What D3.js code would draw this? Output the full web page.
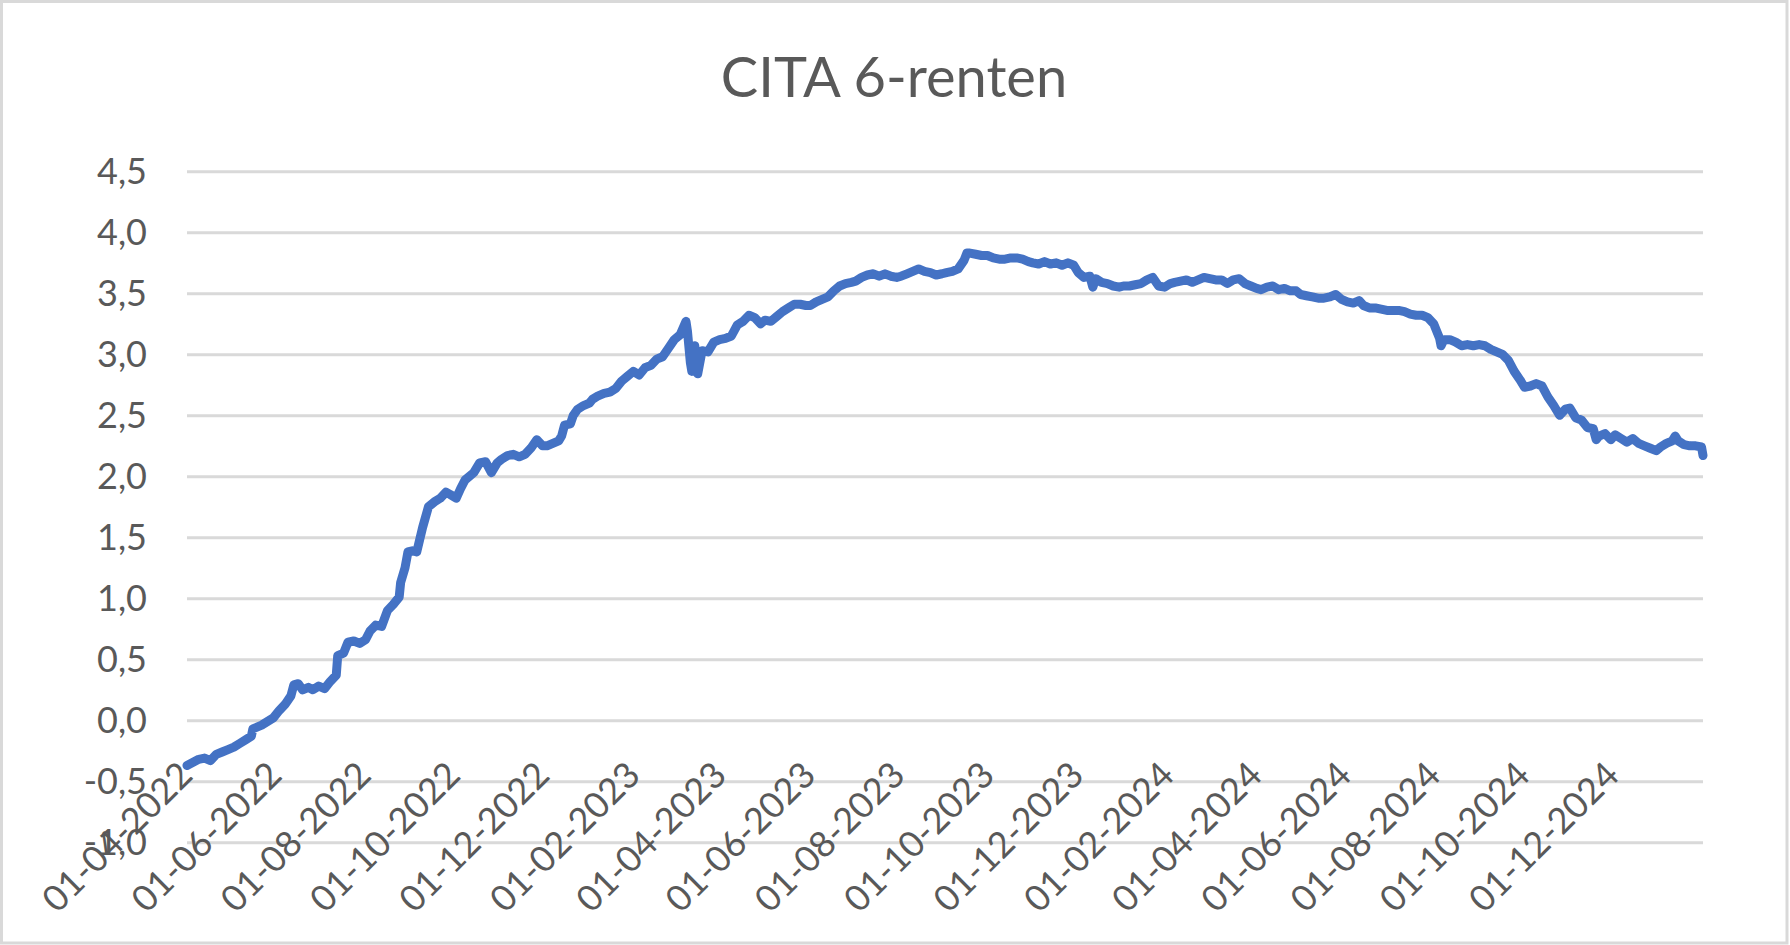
<!DOCTYPE html>
<html>
<head>
<meta charset="utf-8">
<script src="https://cdn.jsdelivr.net/npm/d3@7"></script>
<style>
  html, body { margin: 0; padding: 0; background: #fff; }
  svg { display: block; }
  text { font-family: Lato, "Open Sans", sans-serif; fill: #595959; }
</style>
</head>
<body>
<svg id="chart" width="1790" height="945"></svg>
<script>
const chartTitle = "CITA 6-renten";

const dates = [
"2022-04-01","2022-04-09","2022-04-13","2022-04-17","2022-04-21","2022-04-25","2022-04-29","2022-05-03","2022-05-07","2022-05-11",
"2022-05-15","2022-05-16","2022-05-22","2022-05-30","2022-06-03","2022-06-07","2022-06-11","2022-06-13","2022-06-16","2022-06-19",
"2022-06-23","2022-06-26","2022-06-30","2022-07-04","2022-07-08","2022-07-12","2022-07-13","2022-07-17","2022-07-20","2022-07-24",
"2022-07-28","2022-08-01","2022-08-04","2022-08-08","2022-08-12","2022-08-16","2022-08-20","2022-08-24","2022-08-25","2022-08-28",
"2022-08-30","2022-09-02","2022-09-05","2022-09-09","2022-09-13","2022-09-17","2022-09-21","2022-09-25","2022-09-28","2022-10-02",
"2022-10-05","2022-10-08","2022-10-14","2022-10-18","2022-10-22","2022-10-26","2022-10-30","2022-11-02","2022-11-06","2022-11-10",
"2022-11-14","2022-11-18","2022-11-22","2022-11-26","2022-11-30","2022-12-03","2022-12-07","2022-12-11","2022-12-13","2022-12-15",
"2022-12-19","2022-12-21","2022-12-24","2022-12-28","2023-01-01","2023-01-03","2023-01-07","2023-01-11","2023-01-15","2023-01-19",
"2023-01-23","2023-01-27","2023-01-31","2023-02-04","2023-02-08","2023-02-12","2023-02-16","2023-02-20","2023-02-24","2023-02-28",
"2023-03-04","2023-03-08","2023-03-09","2023-03-11","2023-03-12","2023-03-14","2023-03-16","2023-03-19","2023-03-23","2023-03-27",
"2023-03-31","2023-04-04","2023-04-08","2023-04-12","2023-04-16","2023-04-20","2023-04-24","2023-04-28","2023-05-01","2023-05-05",
"2023-05-09","2023-05-13","2023-05-17","2023-05-21","2023-05-25","2023-05-29","2023-06-01","2023-06-05","2023-06-09","2023-06-13",
"2023-06-17","2023-06-21","2023-06-25","2023-06-29","2023-07-02","2023-07-06","2023-07-10","2023-07-14","2023-07-18","2023-07-22",
"2023-07-26","2023-07-30","2023-08-02","2023-08-06","2023-08-10","2023-08-14","2023-08-18","2023-08-22","2023-08-26","2023-08-30",
"2023-09-02","2023-09-06","2023-09-10","2023-09-14","2023-09-16","2023-09-18","2023-09-22","2023-09-26","2023-09-30","2023-10-04",
"2023-10-08","2023-10-12","2023-10-16","2023-10-20","2023-10-24","2023-10-28","2023-10-31","2023-11-04","2023-11-08","2023-11-12",
"2023-11-16","2023-11-20","2023-11-24","2023-11-28","2023-12-01","2023-12-05","2023-12-09","2023-12-11","2023-12-13","2023-12-17",
"2023-12-21","2023-12-25","2023-12-29","2024-01-01","2024-01-05","2024-01-09","2024-01-13","2024-01-17","2024-01-21","2024-01-25",
"2024-01-29","2024-02-02","2024-02-05","2024-02-09","2024-02-13","2024-02-17","2024-02-21","2024-02-25","2024-02-29","2024-03-04",
"2024-03-08","2024-03-12","2024-03-16","2024-03-20","2024-03-24","2024-03-28","2024-04-01","2024-04-04","2024-04-08","2024-04-12",
"2024-04-16","2024-04-20","2024-04-24","2024-04-28","2024-05-01","2024-05-05","2024-05-09","2024-05-13","2024-05-17","2024-05-21",
"2024-05-25","2024-05-29","2024-06-02","2024-06-06","2024-06-10","2024-06-13","2024-06-17","2024-06-21","2024-06-25","2024-06-29",
"2024-07-03","2024-07-07","2024-07-11","2024-07-15","2024-07-19","2024-07-23","2024-07-27","2024-07-31","2024-08-04","2024-08-05",
"2024-08-07","2024-08-11","2024-08-15","2024-08-19","2024-08-23","2024-08-27","2024-08-31","2024-09-04","2024-09-08","2024-09-12",
"2024-09-16","2024-09-20","2024-09-24","2024-09-28","2024-10-01","2024-10-05","2024-10-09","2024-10-13","2024-10-17","2024-10-21",
"2024-10-25","2024-10-29","2024-11-01","2024-11-05","2024-11-09","2024-11-13","2024-11-17","2024-11-19","2024-11-21","2024-11-25",
"2024-11-29","2024-12-02","2024-12-06","2024-12-10","2024-12-14","2024-12-18","2024-12-22","2024-12-26","2024-12-30","2025-01-02",
"2025-01-06","2025-01-10","2025-01-12","2025-01-14","2025-01-18","2025-01-22","2025-01-26","2025-01-30","2025-01-31"
];

const rates = [
-0.37,-0.32,-0.31,-0.33,-0.28,-0.26,-0.24,-0.22,-0.19,-0.16,
-0.13,-0.07,-0.04,0.02,0.08,0.13,0.20,0.29,0.30,0.25,
0.27,0.25,0.28,0.26,0.32,0.37,0.53,0.55,0.64,0.65,
0.63,0.66,0.73,0.78,0.77,0.90,0.95,1.01,1.13,1.25,
1.38,1.39,1.38,1.58,1.75,1.79,1.82,1.87,1.85,1.82,
1.90,1.97,2.03,2.11,2.12,2.03,2.11,2.14,2.17,2.18,
2.16,2.18,2.23,2.30,2.25,2.25,2.27,2.29,2.33,2.42,
2.43,2.50,2.55,2.58,2.60,2.63,2.66,2.68,2.69,2.72,
2.78,2.82,2.86,2.83,2.89,2.91,2.96,2.98,3.05,3.12,
3.16,3.27,3.19,2.93,2.86,3.07,2.84,3.03,3.02,3.10,
3.12,3.13,3.15,3.24,3.27,3.32,3.30,3.25,3.28,3.27,
3.31,3.35,3.38,3.41,3.41,3.40,3.40,3.43,3.45,3.47,
3.52,3.56,3.58,3.59,3.60,3.63,3.65,3.66,3.64,3.66,
3.64,3.63,3.64,3.66,3.68,3.70,3.68,3.67,3.65,3.66,
3.67,3.68,3.70,3.77,3.83,3.83,3.82,3.81,3.81,3.79,
3.78,3.78,3.79,3.79,3.78,3.76,3.75,3.74,3.76,3.74,
3.75,3.73,3.75,3.73,3.67,3.63,3.64,3.55,3.62,3.59,
3.58,3.56,3.55,3.56,3.56,3.57,3.58,3.61,3.63,3.56,
3.55,3.58,3.59,3.60,3.61,3.59,3.61,3.63,3.62,3.61,
3.61,3.58,3.61,3.62,3.58,3.56,3.54,3.53,3.55,3.56,
3.53,3.54,3.52,3.52,3.49,3.48,3.47,3.46,3.46,3.47,
3.49,3.45,3.43,3.42,3.44,3.40,3.38,3.38,3.37,3.36,
3.36,3.36,3.35,3.33,3.32,3.32,3.30,3.25,3.13,3.07,
3.12,3.12,3.10,3.07,3.08,3.07,3.08,3.07,3.04,3.02,
3.00,2.95,2.86,2.79,2.73,2.74,2.76,2.74,2.65,2.58,
2.50,2.55,2.56,2.48,2.46,2.40,2.39,2.30,2.33,2.35,
2.30,2.34,2.31,2.28,2.31,2.27,2.25,2.23,2.21,2.24,
2.27,2.29,2.33,2.29,2.26,2.25,2.25,2.24,2.17
];

const xTickLabels = ["01-04-2022","01-06-2022","01-08-2022","01-10-2022","01-12-2022",
  "01-02-2023","01-04-2023","01-06-2023","01-08-2023","01-10-2023","01-12-2023",
  "01-02-2024","01-04-2024","01-06-2024","01-08-2024","01-10-2024","01-12-2024"];
const yTicks = [-1.0,-0.5,0.0,0.5,1.0,1.5,2.0,2.5,3.0,3.5,4.0,4.5];

const parseISO = d3.timeParse("%Y-%m-%d");
const parseLbl = d3.timeParse("%d-%m-%Y");
const fmtLbl = d3.timeFormat("%d-%m-%Y");
const data = dates.map((d, i) => ({ date: parseISO(d), v: rates[i] }));
const tickDates = xTickLabels.map(parseLbl);

const W = 1790, H = 945;
const plot = { left: 187, right: 1703, top: 171.3, bottom: 842.3 };

const svg = d3.select("#chart");

// chart border
svg.append("rect")
  .attr("x", 1.5).attr("y", 1.5)
  .attr("width", W - 4.5).attr("height", H - 3.5)
  .attr("fill", "#fff").attr("stroke", "#d9d9d9").attr("stroke-width", 3);

const x = d3.scaleTime()
  .domain([data[0].date, data[data.length - 1].date])
  .range([plot.left, plot.right]);
const y = d3.scaleLinear().domain([-1, 4.5]).range([plot.bottom, plot.top]);

// gridlines
const grid = svg.append("g")
  .attr("transform", `translate(${plot.left},0)`)
  .call(d3.axisLeft(y).tickValues(yTicks).tickSize(-(plot.right - plot.left)).tickFormat(""));
grid.select(".domain").remove();
grid.selectAll("line").attr("stroke", "#d9d9d9").attr("stroke-width", 3);

// y labels
const yAx = svg.append("g")
  .attr("transform", `translate(147,0)`)
  .call(d3.axisLeft(y).tickValues(yTicks).tickSize(0).tickPadding(0)
    .tickFormat(d => d3.format(".1f")(d).replace(".", ",").replace("−", "-")));
yAx.select(".domain").remove();
yAx.selectAll("text")
  .attr("x", 0).attr("dy", "0.35em")
  .style("font-size", "36px").style("fill", "#595959")
  .attr("text-anchor", "end");

// x labels
const xAx = svg.append("g")
  .attr("transform", `translate(0,${y(0)})`)
  .call(d3.axisBottom(x).tickValues(tickDates).tickSize(0).tickFormat(fmtLbl));
xAx.select(".domain").remove();
xAx.selectAll("text")
  .attr("y", 0).attr("dy", 0)
  .attr("text-anchor", "end")
  .attr("transform", "translate(7,57) rotate(-45)")
  .style("font-size", "36px").style("fill", "#595959");

// line
const line = d3.line().x(d => x(d.date)).y(d => y(d.v));
svg.append("path")
  .datum(data)
  .attr("d", line)
  .attr("fill", "none")
  .attr("stroke", "#4472C4")
  .attr("stroke-width", 9)
  .attr("stroke-linejoin", "round")
  .attr("stroke-linecap", "round");

// title
svg.append("text")
  .attr("x", 894).attr("y", 97)
  .attr("text-anchor", "middle")
  .style("font-size", "56px")
  .style("fill", "#595959")
  .text(chartTitle);
</script>
</body>
</html>
